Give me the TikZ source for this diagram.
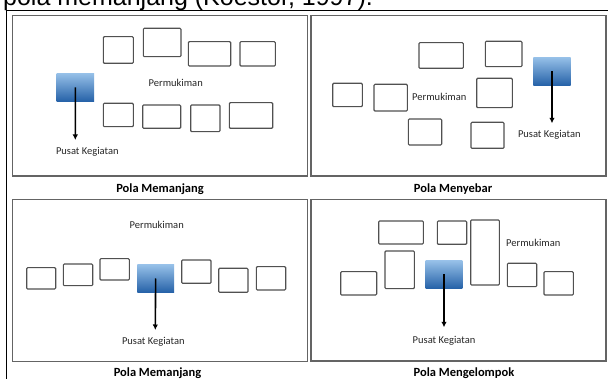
\documentclass[tikz,border=0pt]{standalone}
\usepackage{fontspec}
\setmainfont{Carlito}
\newfontfamily\arialf{Liberation Sans}
\usetikzlibrary{arrows.meta,fit}
\definecolor{frameg}{RGB}{100,100,100}
\definecolor{boxg}{RGB}{80,80,80}
\definecolor{bluetop}{RGB}{150,192,232}
\definecolor{bluebot}{RGB}{38,98,168}
\tikzset{
 panel/.style={draw=frameg, line width=1.1pt, inner sep=0pt},
 house/.style={draw=boxg, line width=1.1pt, fill=white, rounded corners=1pt, inner sep=0pt},
 hub/.style={top color=bluetop, bottom color=bluebot, draw=none, inner sep=0pt},
 lbl/.style={font=\fontsize{10.5}{12}\selectfont, text=black!85, inner sep=0pt},
 captxt/.style={font=\fontsize{12.5}{14}\selectfont\bfseries, inner sep=0pt},
 arr/.style={-{Latex[length=5.5pt,width=5.5pt]}, line width=1.6pt},
 tablerule/.style={draw=black, line width=0.8pt},
}
\begin{document}
\begin{tikzpicture}[x=1pt,y=-1pt]
\useasboundingbox (0,0) rectangle (608,379);
\clip (0,0) rectangle (608,379);
\fill[white] (0,0) rectangle (608,379);
% title (cut off)
\node[anchor=base west, font=\arialf\fontsize{25}{25}\selectfont, inner sep=0pt] (title) at (3,5.3) {pola memanjang (Koestor, 1997).};
% table rules
\coordinate (tl) at (6,10);
\coordinate (tr) at (608,10);
\coordinate (bl) at (6,379);
\draw[tablerule] (tr) -- (tl) -- (bl);
% panels
\node[panel, fit={(12.7,15.5) (307.3,176)}] (p1) {};
\node[panel, fit={(311,15.5) (606,176)}] (p2) {};
\node[panel, fit={(12.7,199.5) (307.3,361.5)}] (p3) {};
\node[panel, fit={(311,199.5) (606,361)}] (p4) {};
\node[captxt] (c1) at (160,189) {Pola Memanjang};
\node[captxt] (c2) at (453,189) {Pola Menyebar};
\node[captxt] (c3) at (157.5,373) {Pola Memanjang};
\node[captxt] (c4) at (464,373) {Pola Mengelompok};
% ---- panel 1
\node[house, fit={(103.3,36.7) (133.3,63.3)}] (a1) {};
\node[house, fit={(143.3,28.3) (181,56.7)}] (a2) {};
\node[house, fit={(188.3,41.7) (230.7,66)}] (a3) {};
\node[house, fit={(240,41.7) (275.3,66)}] (a4) {};
\node[house, fit={(103.3,103.3) (133.3,126.7)}] (a5) {};
\node[house, fit={(142.7,105) (180.7,128.3)}] (a6) {};
\node[house, fit={(190.7,105) (220,131.7)}] (a7) {};
\node[house, fit={(229.3,102.7) (272.7,128.3)}] (a8) {};
\node[hub, fit={(56.7,73.3) (94,101.3)}] (h1) {};
\node[lbl] (pm1) at (175.7,83.3) {Permukiman};
\node[lbl] (pk1) at (87.3,152) {Pusat Kegiatan};
\coordinate (t1) at (75.3,140);
\draw[arr] (h1.center) -- (t1);
% ---- panel 2
\node[house, fit={(419,42.7) (463.3,68.3)}] (b1) {};
\node[house, fit={(485.3,41.3) (522,66.7)}] (b2) {};
\node[house, fit={(332.7,83.3) (362.3,106.7)}] (b3) {};
\node[house, fit={(374,84.3) (407.3,111)}] (b4) {};
\node[house, fit={(476.7,78.3) (512.3,107.7)}] (b5) {};
\node[house, fit={(408.3,119) (441.7,145)}] (b6) {};
\node[house, fit={(471,122.3) (504,148.3)}] (b7) {};
\node[hub, fit={(533.3,57.3) (570.7,85.3)}] (h2) {};
\node[lbl] (pm2) at (439.3,97.3) {Permukiman};
\node[lbl] (pk2) at (549.3,135) {Pusat Kegiatan};
\coordinate (t2) at (552,123.3);
\draw[arr] (h2.center) -- (t2);
% ---- panel 3
\node[house, fit={(26.7,267.7) (55.7,289)}] (d1) {};
\node[house, fit={(63.3,264) (92.7,285.7)}] (d2) {};
\node[house, fit={(100,258.7) (129.3,280)}] (d3) {};
\node[house, fit={(181.7,260) (211,283.3)}] (d4) {};
\node[house, fit={(218.7,268.3) (248,292.3)}] (d5) {};
\node[house, fit={(256.3,266.7) (285.7,290)}] (d6) {};
\node[hub, fit={(137.3,264.7) (174,292.3)}] (h3) {};
\node[lbl] (pm3) at (156.7,225) {Permukiman};
\node[lbl] (pk3) at (153.3,341.7) {Pusat Kegiatan};
\coordinate (t3) at (155.3,330);
\draw[arr] (h3.center) -- (t3);
% ---- panel 4
\node[house, fit={(378.7,221) (423.3,244)}] (e1) {};
\node[house, fit={(437.3,221) (466.7,244.3)}] (e2) {};
\node[house, fit={(470.7,220) (499.3,285)}] (e3) {};
\node[house, fit={(385,251) (414.3,288.7)}] (e4) {};
\node[house, fit={(340.7,271.7) (376.7,295)}] (e5) {};
\node[house, fit={(507.3,263.3) (536.7,286.7)}] (e6) {};
\node[house, fit={(544,271.7) (573.3,295)}] (e7) {};
\node[hub, fit={(425.7,260.7) (462.3,288.3)}] (h4) {};
\node[lbl] (pm4) at (533.3,243.3) {Permukiman};
\node[lbl] (pk4) at (444,340.7) {Pusat Kegiatan};
\coordinate (t4) at (444,327.3);
\draw[arr] (h4.center) -- (t4);
\end{tikzpicture}
\end{document}
